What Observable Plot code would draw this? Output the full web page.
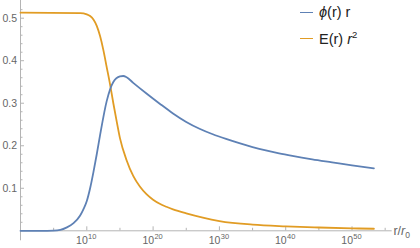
<!DOCTYPE html>
<html><head><meta charset="utf-8">
<script src="https://cdn.jsdelivr.net/npm/d3@7"></script>
<script src="https://cdn.jsdelivr.net/npm/@observablehq/plot@0.6"></script>
<style>
body{margin:0;background:#fff;}
#c{position:relative;width:420px;height:248px;font-family:"Liberation Sans",Arial,sans-serif;}
.lg{position:absolute;font-size:14.5px;line-height:16px;color:#222;white-space:nowrap;}
.sw{position:absolute;width:13px;height:0;border-top:1.6px solid;}
</style></head><body><div id="c"></div>
<script>
// log10(r/r0) sample positions and values
const phiLogR = [0, 3, 5, 6, 7, 8, 9, 9.5, 10, 10.5, 11, 11.5, 12, 13, 14, 15, 15.5, 16, 17, 19, 21, 23, 25, 27, 29, 31, 33, 35, 37, 39, 41, 44, 47, 50, 53.3];
const phiVals = [0, 0, 0.0005, 0.002, 0.008, 0.018, 0.036, 0.051, 0.07, 0.1, 0.138, 0.18, 0.225, 0.305, 0.350, 0.363, 0.364, 0.361, 0.348, 0.323, 0.299, 0.276, 0.256, 0.240, 0.227, 0.216, 0.206, 0.197, 0.189, 0.182, 0.176, 0.168, 0.161, 0.154, 0.147];
const eLogR = [0, 9, 10, 10.5, 11, 11.5, 12, 12.5, 13, 13.5, 14, 14.5, 15, 16, 17, 18, 19, 20, 21, 22, 23, 25, 27.5, 30, 35, 40, 45, 50, 53.3];
const eVals = [0.513, 0.512, 0.509, 0.505, 0.497, 0.482, 0.458, 0.425, 0.385, 0.345, 0.300, 0.258, 0.218, 0.166, 0.129, 0.104, 0.086, 0.073, 0.0635, 0.0565, 0.0505, 0.041, 0.031, 0.023, 0.0145, 0.0105, 0.0078, 0.0058, 0.0048];

const yMajorTicks = [0.1, 0.2, 0.3, 0.4, 0.5];
const yMinorTicks = [0.02, 0.04, 0.06, 0.08, 0.12, 0.14, 0.16, 0.18, 0.22, 0.24, 0.26, 0.28, 0.32, 0.34, 0.36, 0.38, 0.42, 0.44, 0.46, 0.48, 0.52];
const xMajorExp = [10, 20, 30, 40, 50];
const xMinorExp = [5, 15, 25, 35, 45, 55];
const xDomainExp = [0, 56.06];
const yDomain = [0, 0.5416];
const yAxisBottom = -0.0235;
const seriesColors = ["#5E81B5", "#E19C24"];

const axisColor = "#b4b4b4";
const labelColor = "#666";

const phiData = phiLogR.map((d, i) => ({r: 10 ** d, v: phiVals[i]}));
const eData = eLogR.map((d, i) => ({r: 10 ** d, v: eVals[i]}));
const xLo = 10 ** xDomainExp[0], xHi = 10 ** xDomainExp[1];

const plot = Plot.plot({
  width: 420, height: 248,
  marginLeft: 20, marginRight: 28.3, marginTop: 0, marginBottom: 17.7,
  style: {fontFamily: "'Liberation Sans', Arial, sans-serif", fontSize: "10.5px", background: "white", overflow: "visible"},
  x: {type: "log", domain: [xLo, xHi], axis: null},
  y: {domain: yDomain, axis: null},
  marks: [
    Plot.ruleX([xLo], {x: d => d, y1: yAxisBottom, y2: yDomain[1], stroke: axisColor}),
    Plot.ruleY([0], {y: d => d, x1: xLo, x2: xHi, stroke: axisColor}),
    Plot.ruleY(yMajorTicks, {y: d => d, x1: xLo, x2: xLo, insetRight: -4, stroke: axisColor}),
    Plot.ruleY(yMinorTicks, {y: d => d, x1: xLo, x2: xLo, insetRight: -2.5, stroke: axisColor}),
    Plot.ruleX(xMajorExp, {x: d => 10 ** d, y1: 0, y2: 0, insetTop: -4, stroke: axisColor}),
    Plot.ruleX(xMinorExp, {x: d => 10 ** d, y1: 0, y2: 0, insetTop: -2.5, stroke: axisColor}),
    Plot.text(yMajorTicks, {x: xLo, y: d => d, text: d => d.toFixed(1), textAnchor: "end", dx: -3.5, fill: labelColor, fontSize: 10.5}),
    Plot.text(xMajorExp, {x: d => 10 ** d, y: 0, text: () => "10", textAnchor: "end", dx: 1, dy: 10.3, fill: labelColor, fontSize: 10.5}),
    Plot.text(xMajorExp, {x: d => 10 ** d, y: 0, text: d => String(d), textAnchor: "start", dx: 1.3, dy: 6, fill: labelColor, fontSize: 7.5}),
    Plot.line(eData, {x: "r", y: "v", stroke: seriesColors[1], strokeWidth: 1.8, curve: "monotone-x"}),
    Plot.line(phiData, {x: "r", y: "v", stroke: seriesColors[0], strokeWidth: 1.8, curve: "monotone-x"})
  ]
});
document.getElementById("c").appendChild(plot);

// axis label r/r0
const xs = plot.scale("x"), ys = plot.scale("y");
const lab = d3.select(plot).append("text")
  .attr("x", xs.apply(xHi) + 10).attr("y", ys.apply(0) + 5)
  .attr("fill", labelColor).attr("font-size", 12.5);
lab.append("tspan").text("r/");
lab.append("tspan").attr("font-style", "italic").text("r");
lab.append("tspan").attr("font-size", 8.5).attr("dy", 2.5).text("0");

// legend
const c = document.getElementById("c");
const legendItems = [
  {color: seriesColors[0], html: '<i>ϕ</i>(r) r'},
  {color: seriesColors[1], html: 'E(r) <i>r</i><sup style="font-size:9.5px;vertical-align:6px;line-height:0">2</sup>'}
];
legendItems.forEach((it, i) => {
  const cy = 12.3 + i * 26.7;
  const sw = document.createElement("div");
  sw.className = "sw"; sw.style.left = "300px"; sw.style.top = (cy - 0.8) + "px"; sw.style.borderTopColor = it.color;
  c.appendChild(sw);
  const t = document.createElement("div");
  t.className = "lg"; t.style.left = "319px"; t.style.top = (cy - 8) + "px"; t.innerHTML = it.html;
  c.appendChild(t);
});
</script></body></html>
